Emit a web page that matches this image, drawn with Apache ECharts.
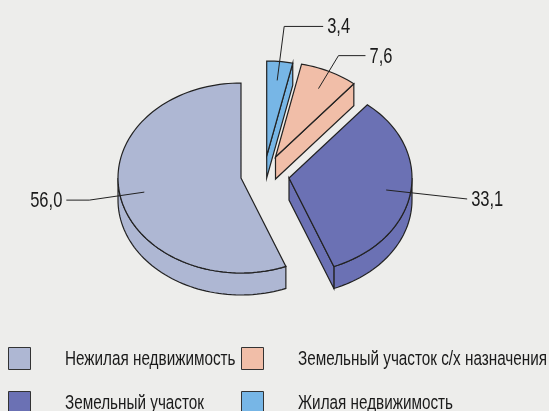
<!DOCTYPE html>
<html>
<head>
<meta charset="utf-8">
<style>
  html, body { margin: 0; padding: 0; background: #ededeb; }
  #chart { width: 549px; height: 411px; }
</style>
<script src="https://cdn.jsdelivr.net/npm/echarts@6/dist/echarts.min.js"></script>
</head>
<body>
<div id="chart"></div>
<script>
// clockwise from the top of the pie
const categories = ['Жилая недвижимость', 'Земельный участок с/х назначения', 'Земельный участок', 'Нежилая недвижимость'];
const values = [3.4, 7.6, 33.1, 56.0];
const legendOrder = [3, 1, 2, 0];

const colors = ['#77b6e6', '#f1bea8', '#6b71b4', '#aeb7d3'];
const centers = [[266.7, 156], [275.5, 157], [289, 178], [241, 178]];
const elbows = [[[7, -54], [46, -54]], [[20, -33], [47, -33]], [[81, 9]], [[-55, 8], [-78, 8]]];
const legendPos = [[8, 347], [241, 347], [8, 391], [241, 391]];

const RX = 123, RY = 95, DEPTH = 22;
const FONT = '"Liberation Sans", sans-serif';
const LINE = '#222222';
const total = values.reduce((a, b) => a + b, 0);

function pt(c, deg, k, dy) {
  const r = deg * Math.PI / 180;
  return [c[0] + RX * k * Math.sin(r), c[1] - RY * k * Math.cos(r) + (dy || 0)];
}
function arc(c, from, to, dy) {
  const pts = [];
  const n = Math.max(2, Math.ceil(Math.abs(to - from) / 2));
  for (let i = 0; i <= n; i++) pts.push(pt(c, from + (to - from) * i / n, 1, dy));
  return pts;
}
function poly(points, color) {
  return {
    type: 'polygon',
    shape: { points: points },
    style: { fill: color, stroke: LINE, lineWidth: 1.2 }
  };
}

function renderSlice(i) {
  const c = centers[i];
  const color = colors[i];
  const before = values.slice(0, i).reduce((a, b) => a + b, 0);
  const start = before / total * 360;
  const end = (before + values[i]) / total * 360;
  const mid = (start + end) / 2;
  const children = [];

  // side walls, only the ones turned to the viewer
  const lo = Math.max(start, 90), hi = Math.min(end, 270);
  if (hi > lo) {
    children.push(poly(arc(c, lo, hi, 0).concat(arc(c, hi, lo, DEPTH)), color));
  }
  if (end < 180) {
    const p = pt(c, end, 1);
    const q = pt(c, end, 1, DEPTH);
    children.push(poly([c, p, q, [c[0], c[1] + DEPTH]], color));
  }
  // top face
  children.push(poly([c].concat(arc(c, start, end, 0)), color));

  // leader line and value
  const a = pt(c, mid, 0.8);
  const pts = [a].concat(elbows[i].map(e => [a[0] + e[0], a[1] + e[1]]));
  children.push({
    type: 'polyline',
    shape: { points: pts },
    style: { fill: 'none', stroke: LINE, lineWidth: 1 }
  });
  const last = pts[pts.length - 1];
  const toRight = last[0] > a[0];
  children.push({
    type: 'text',
    x: last[0] + (toRight ? 4 : -4),
    y: last[1] + 1,
    scaleX: 0.75,
    style: {
      x: 0,
      y: 0,
      text: values[i].toFixed(1).replace('.', ','),
      font: '22px ' + FONT,
      fill: '#1a1a1a',
      align: toRight ? 'left' : 'right',
      verticalAlign: 'middle'
    }
  });
  return { type: 'group', children: children };
}

const legendItems = [];
legendOrder.forEach((idx, i) => {
  const p = legendPos[i];
  legendItems.push({
    type: 'rect',
    left: p[0],
    top: p[1],
    shape: { width: 22, height: 22 },
    style: { fill: colors[idx], stroke: '#333', lineWidth: 1 }
  });
  legendItems.push({
    type: 'text',
    x: p[0] + 57,
    y: p[1] + 12,
    scaleX: 0.745,
    style: {
      x: 0,
      y: 0,
      text: categories[idx],
      font: '20.5px ' + FONT,
      fill: '#1a1a1a',
      align: 'left',
      verticalAlign: 'middle'
    }
  });
});

const chart = echarts.init(document.getElementById('chart'));
chart.setOption({
  backgroundColor: '#ededeb',
  animation: false,
  graphic: { elements: legendItems },
  series: [3, 2, 1, 0].map(i => ({
    type: 'custom',
    name: categories[i],
    coordinateSystem: 'none',
    silent: true,
    itemStyle: { color: colors[i] },
    data: [[values[i]]],
    renderItem: () => renderSlice(i)
  }))
});
</script>
</body>
</html>
